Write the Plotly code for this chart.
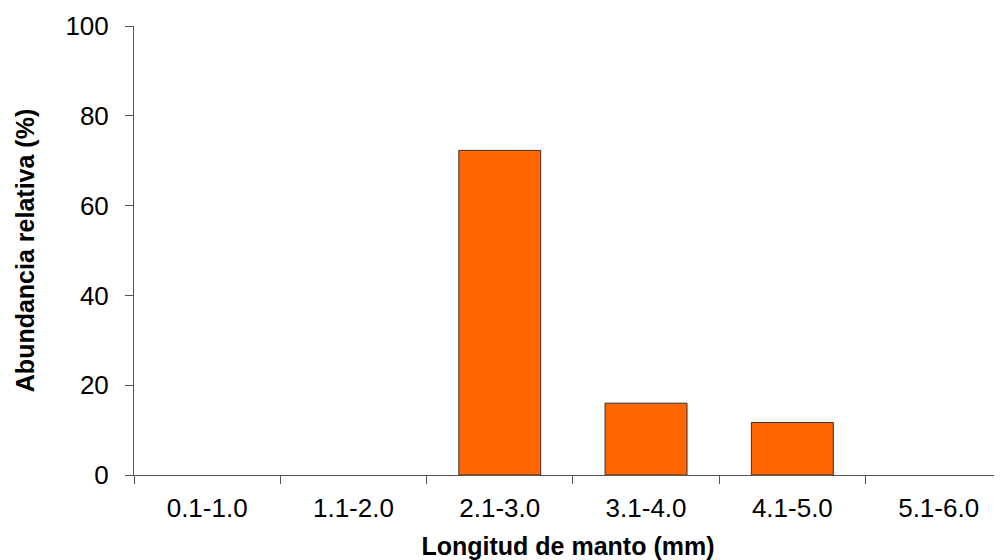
import plotly.graph_objects as go

categories = ["0.1-1.0", "1.1-2.0", "2.1-3.0", "3.1-4.0", "4.1-5.0", "5.1-6.0"]
abundancia = [0, 0, 72.3, 16.0, 11.7, 0]
y_ticks = [0, 20, 40, 60, 80, 100]

outline_widths = [1 if v > 0 else 0 for v in abundancia]

fig = go.Figure(go.Bar(
    x=categories, y=abundancia,
    marker=dict(color="#FF6600", line=dict(color="#333333", width=outline_widths)),
    width=0.56,
))

axis_font = dict(family="Liberation Sans, Arial, sans-serif", size=26, color="#000000")
title_font = dict(family="Liberation Sans, Arial, sans-serif", size=25, color="#000000")

fig.update_layout(
    width=994, height=552,
    margin=dict(l=126, r=0, t=18, b=85),
    paper_bgcolor="white", plot_bgcolor="white",
    showlegend=False,
    xaxis=dict(
        type="category", range=[-0.5, 5.433],
        showline=True, linecolor="#555555", linewidth=1,
        ticks="outside", tickson="boundaries", ticklen=8, tickcolor="#555555",
        tickfont=axis_font, ticklabelstandoff=10,
        showgrid=False, zeroline=False,
        title=dict(text="<b>Longitud de manto (mm)</b>", font=title_font, standoff=19),
    ),
    yaxis=dict(
        range=[0, 100], tickvals=y_ticks,
        showline=True, linecolor="#555555", linewidth=1,
        ticks="outside", ticklen=8, tickcolor="#555555",
        tickfont=axis_font, ticklabelstandoff=11,
        showgrid=False, zeroline=False,
        title=dict(text="<b>Abundancia relativa (%)</b>", font=title_font, standoff=23),
    ),
)

fig.write_html("out.html")
